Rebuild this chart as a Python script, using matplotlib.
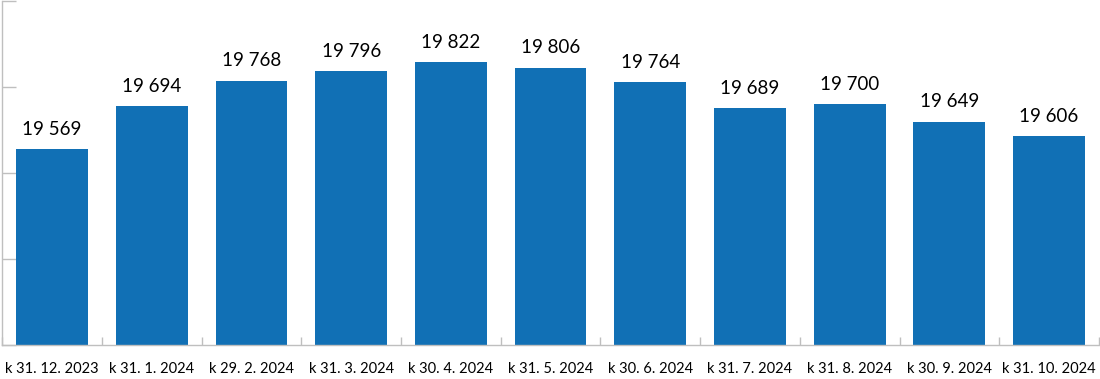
import matplotlib

matplotlib.use("Agg")
import matplotlib.pyplot as plt
import numpy as np

plt.rcParams["font.family"] = ["Lato", "DejaVu Sans"]

CATEGORIES = [
    "k 31. 12. 2023", "k 31. 1. 2024", "k 29. 2. 2024", "k 31. 3. 2024",
    "k 30. 4. 2024", "k 31. 5. 2024", "k 30. 6. 2024", "k 31. 7. 2024",
    "k 31. 8. 2024", "k 30. 9. 2024", "k 31. 10. 2024",
]
VALUES = [19569, 19694, 19768, 19796, 19822, 19806, 19764, 19689, 19700, 19649, 19606]

BAR_COLOR = "#1170b5"
AXIS_COLOR = "#bfbfbf"

fig = plt.figure(figsize=(11, 3.79), dpi=100)
ax = fig.add_axes([0.002, 0.09, 0.997, 0.908])

x = np.arange(len(VALUES))
ax.bar(x, VALUES, width=0.72, color=BAR_COLOR, zorder=2)

for xi, v in zip(x, VALUES):
    label = f"{v:,}".replace(",", " ")
    ax.annotate(label, (xi, v), xytext=(0, 8), textcoords="offset points",
                ha="center", va="bottom", fontsize=13.5, color="black")

ax.set_xlim(-0.5, len(VALUES) - 0.5)
ax.set_ylim(19000, 20000)
ax.set_yticks([19000, 19250, 19500, 19750, 20000])
ax.set_yticklabels([])
ax.tick_params(axis="y", direction="in", length=10, color=AXIS_COLOR, width=1)

ax.set_xticks(x)
ax.set_xticklabels(CATEGORIES, fontsize=10.5)
ax.tick_params(axis="x", which="major", length=0, pad=12)
ax.set_xticks(np.arange(-0.5, len(VALUES)), minor=True)
ax.tick_params(axis="x", which="minor", direction="in", length=6, color=AXIS_COLOR, width=1)

for side in ("top", "right"):
    ax.spines[side].set_visible(False)
for side in ("left", "bottom"):
    ax.spines[side].set_color(AXIS_COLOR)
    ax.spines[side].set_linewidth(1)

fig.savefig("out.png", dpi=100)
